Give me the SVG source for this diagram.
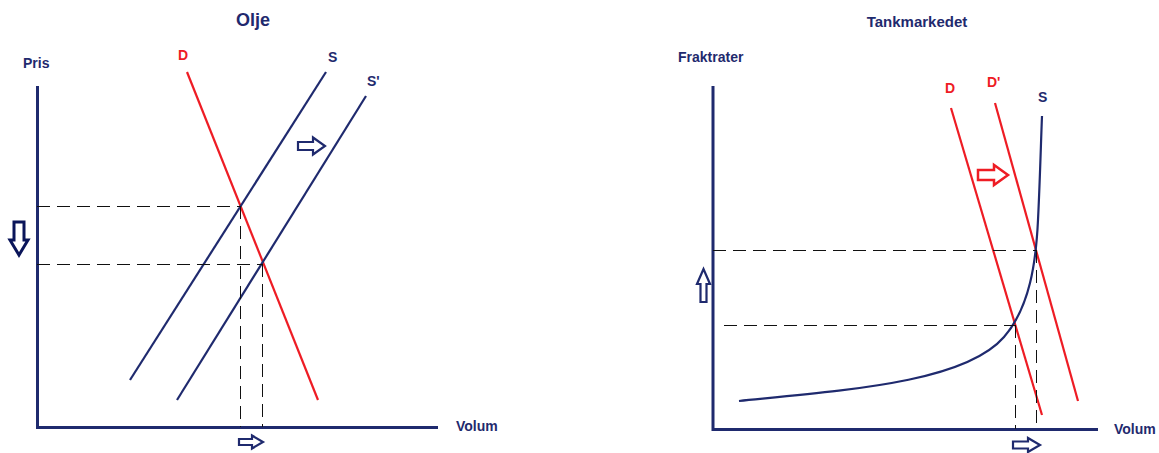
<svg xmlns="http://www.w3.org/2000/svg" width="1159" height="453" viewBox="0 0 1159 453">
<style>
.t{font-family:"Liberation Sans",Arial,sans-serif;font-weight:bold;fill:#1f2a6e}
.r{fill:#ee1c24}
.ax{stroke:#1f2a6e;stroke-width:3;fill:none}
.sup{stroke:#1f2a6e;stroke-width:2.2;fill:none}
.dem{stroke:#ee1c24;stroke-width:2.2;fill:none}
.dash{stroke:#111;stroke-width:1;stroke-dasharray:13,7;fill:none}
.arr{fill:#fff;stroke:#1f2a6e;stroke-width:2.2;stroke-linejoin:miter}
</style>
<rect width="1159" height="453" fill="#fff"/>
<g id="left-chart">
  <text class="t" x="253" y="26" font-size="18" text-anchor="middle">Olje</text>
  <text class="t" x="23" y="68" font-size="14">Pris</text>
  <text class="t" x="456" y="431" font-size="14">Volum</text>
  <g id="left-axes"><path class="ax" d="M37.5,86 V427.5 H438"/></g>
  <g id="left-D"><text class="t r" x="178" y="60" font-size="14">D</text><path class="dem" d="M187,72 L318,400"/></g>
  <g id="left-S"><text class="t" x="328" y="62" font-size="14">S</text><path class="sup" d="M326,72 L130,380"/></g>
  <g id="left-S2"><text class="t" x="367" y="86" font-size="14">S'</text><path class="sup" d="M366,96 L177,400"/></g>
</g>
<g id="right-chart">
  <text class="t" x="917" y="27" font-size="15" text-anchor="middle">Tankmarkedet</text>
  <text class="t" x="678" y="62" font-size="14">Fraktrater</text>
  <text class="t" x="1114" y="434" font-size="14">Volum</text>
  <g id="right-axes"><path class="ax" d="M713,86 V429.5 H1098"/></g>
  <g id="right-D"><text class="t r" x="945" y="93" font-size="14">D</text><path class="dem" d="M951,108 L1042,415"/></g>
  <g id="right-D2"><text class="t r" x="987" y="87" font-size="14">D'</text><path class="dem" d="M995,103 L1078,401"/></g>
  <g id="right-S"><text class="t" x="1038" y="102" font-size="14">S</text><path class="sup" d="M739,401 C850,390 965,382 1004,337 C1030,307 1036,262 1038,220 C1040,180 1041,140 1042,116"/></g>
</g>
<g id="connectors">
  <path class="dash" d="M37,206.5 H240 M37,264.5 H262 M240.5,206 V427 M262.5,264 V427"/>
  <path class="dash" d="M713,250.5 H1036 M724,325.5 H1015 M1015.5,325 V429 M1036.5,250 V429"/>
</g>
<g id="shift-arrows">
  <path class="arr" d="M298,142 H313 V137.5 L325,146 L313,154.5 V150 H298 Z"/>
  <path class="arr" d="M239,439 H252 V435.5 L263,442 L252,448.5 V445 H239 Z"/>
  <path class="arr" d="M14,222 H24 V240 H28 L19,255 L10,240 H14 Z" style="stroke:#0a155a;stroke-width:3"/>
  <path class="arr" d="M1013,441.5 H1028 V438 L1040,445 L1028,452 V448.5 H1013 Z"/>
  <path class="arr" d="M700.5,302 V284 H697 L703.5,269 L710,284 H706.5 V302 Z"/>
  <path class="arr" d="M978,170 H994 V165 L1008,175 L994,185 V180 H978 Z" style="stroke:#ee1c24;stroke-width:2.5"/>
</g>
</svg>
